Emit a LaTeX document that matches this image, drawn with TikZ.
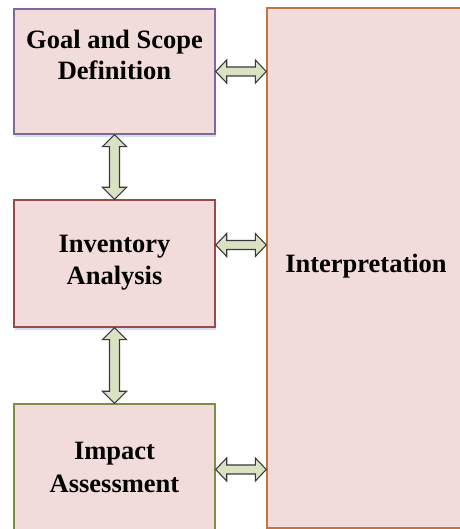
\documentclass[tikz,border=0pt]{standalone}
\usepackage{fontspec}
\setmainfont{Liberation Serif}
\usetikzlibrary{calc}

\definecolor{boxfill}{HTML}{F2DCDB}
\definecolor{goalline}{HTML}{8067A0}
\definecolor{invline}{HTML}{9A4A48}
\definecolor{impline}{HTML}{7A9048}
\definecolor{intline}{HTML}{C27540}
\definecolor{arrfill}{HTML}{D9E3C4}
\definecolor{arrline}{HTML}{3A3A3A}
\definecolor{shadowblue}{HTML}{D3E0F3}

\tikzset{
  x=1pt, y=1pt,
  stagebox/.style={draw, line width=1.4pt, fill=boxfill, rectangle, inner sep=0pt},
  label text/.style={font=\fontsize{26.5}{31}\selectfont\bfseries, align=center, inner sep=0pt},
  blockarrow/.style={draw=arrline, line width=1.1pt, fill=arrfill, line join=miter},
}

% horizontal double block arrow between two tips (left, right)
\newcommand\harrow[2]{%
  \draw[blockarrow]
    (#1) -- ($(#1)+(11,11.5)$) -- ($(#1)+(11,4.5)$)
    -- ($(#2)+(-11,4.5)$) -- ($(#2)+(-11,11.5)$) -- (#2)
    -- ($(#2)+(-11,-11.5)$) -- ($(#2)+(-11,-4.5)$)
    -- ($(#1)+(11,-4.5)$) -- ($(#1)+(11,-11.5)$) -- cycle;}
% vertical double block arrow between two tips (top, bottom)
\newcommand\varrow[2]{%
  \draw[blockarrow]
    (#1) -- ($(#1)+(12,-12)$) -- ($(#1)+(5,-12)$)
    -- ($(#2)+(5,12)$) -- ($(#2)+(12,12)$) -- (#2)
    -- ($(#2)+(-12,12)$) -- ($(#2)+(-5,12)$)
    -- ($(#1)+(-5,-12)$) -- ($(#1)+(-12,-12)$) -- cycle;}

\begin{document}
\begin{tikzpicture}
\useasboundingbox (0,0) rectangle (459,529);

% soft shadows under the left boxes
\fill[shadowblue] (15,392) rectangle (216,395.5);
\fill[shadowblue] (15,199) rectangle (216,202.5);

% stages
\node[stagebox, draw=goalline, minimum width=201, minimum height=125] (goal) at (114.5,457.5) {};
\node[label text] (goaltext) at (114.5,474) {Goal and Scope\\Definition};

\node[stagebox, draw=invline, minimum width=201, minimum height=127] (inv) at (114.5,265.5) {};
\node[label text, font=\fontsize{26.5}{32}\selectfont\bfseries] (invtext) at (114.5,266) {Inventory\\Analysis};

\node[stagebox, draw=impline, minimum width=201, minimum height=131] (imp) at (114.5,59.5) {};
\node[label text, font=\fontsize{26.5}{33}\selectfont\bfseries] (imptext) at (114.5,62) {Impact\\Assessment};

\node[stagebox, draw=intline, minimum width=200, minimum height=520] (interp) at (367,261) {};
\node[label text] (inttext) at (366,263) {Interpretation};

% links between the phases
\varrow{goal.south}{inv.north}
\varrow{inv.south}{imp.north}

\coordinate (invR) at ($(inv.east)+(0,18.5)$);
\coordinate (invI) at (interp.west |- invR);
\harrow{goal.east}{interp.west |- goal.east}
\harrow{invR}{invI}
\harrow{imp.east}{interp.west |- imp.east}
\end{tikzpicture}
\end{document}
